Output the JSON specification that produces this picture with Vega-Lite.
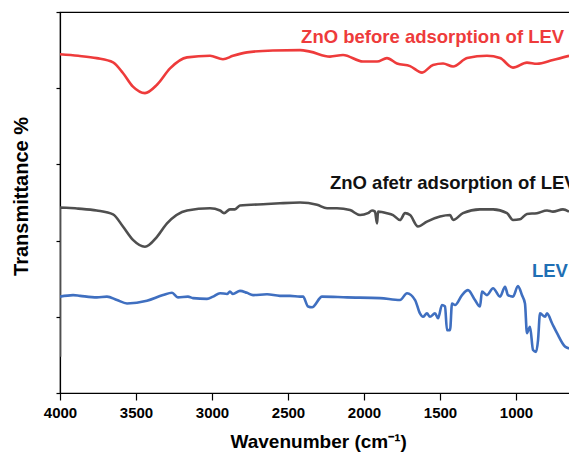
{
  "$schema": "https://vega.github.io/schema/vega-lite/v6.json",
  "autosize": {"type": "none"},
  "padding": {"left": 60, "top": 12, "right": 0, "bottom": 59},
  "width": 520,
  "height": 381,
  "background": "white",
  "view": {"stroke": "black", "strokeWidth": 1.2},
  "config": {"font": "Liberation Sans"},
  "datasets": {
    "spectra": [
      {"s": "before", "wn": 4000, "T": 88.9}, {"s": "before", "wn": 3880, "T": 88.5}, {"s": "before", "wn": 3759, "T": 87.9}, {"s": "before", "wn": 3651, "T": 86.8},
      {"s": "before", "wn": 3586, "T": 84.0}, {"s": "before", "wn": 3520, "T": 80.4}, {"s": "before", "wn": 3441, "T": 78.7},
      {"s": "before", "wn": 3362, "T": 80.9}, {"s": "before", "wn": 3276, "T": 85.2}, {"s": "before", "wn": 3164, "T": 88.1},
      {"s": "before", "wn": 3013, "T": 88.5}, {"s": "before", "wn": 2928, "T": 87.6}, {"s": "before", "wn": 2862, "T": 88.5},
      {"s": "before", "wn": 2770, "T": 89.4}, {"s": "before", "wn": 2599, "T": 89.9}, {"s": "before", "wn": 2421, "T": 90.0},
      {"s": "before", "wn": 2355, "T": 89.6}, {"s": "before", "wn": 2224, "T": 88.3}, {"s": "before", "wn": 2138, "T": 88.7},
      {"s": "before", "wn": 2007, "T": 87.0}, {"s": "before", "wn": 1914, "T": 87.0}, {"s": "before", "wn": 1849, "T": 87.9},
      {"s": "before", "wn": 1783, "T": 86.5}, {"s": "before", "wn": 1697, "T": 85.8}, {"s": "before", "wn": 1618, "T": 84.1},
      {"s": "before", "wn": 1546, "T": 86.1}, {"s": "before", "wn": 1480, "T": 86.5}, {"s": "before", "wn": 1414, "T": 85.7},
      {"s": "before", "wn": 1322, "T": 87.9}, {"s": "before", "wn": 1191, "T": 88.5}, {"s": "before", "wn": 1105, "T": 87.9},
      {"s": "before", "wn": 1020, "T": 85.4}, {"s": "before", "wn": 928, "T": 86.7}, {"s": "before", "wn": 862, "T": 86.4},
      {"s": "before", "wn": 757, "T": 87.4}, {"s": "before", "wn": 651, "T": 88.5},

      {"s": "after", "wn": 4000, "T": 9.5}, {"s": "after", "wn": 3999.9, "T": 48.7}, {"s": "after", "wn": 3880, "T": 48.4}, {"s": "after", "wn": 3759, "T": 47.9},
      {"s": "after", "wn": 3651, "T": 46.9}, {"s": "after", "wn": 3586, "T": 43.7}, {"s": "after", "wn": 3520, "T": 40.2},
      {"s": "after", "wn": 3441, "T": 38.4}, {"s": "after", "wn": 3362, "T": 41.0}, {"s": "after", "wn": 3296, "T": 44.5},
      {"s": "after", "wn": 3164, "T": 47.9}, {"s": "after", "wn": 3013, "T": 48.5}, {"s": "after", "wn": 2947, "T": 47.9},
      {"s": "after", "wn": 2921, "T": 47.2}, {"s": "after", "wn": 2882, "T": 48.2}, {"s": "after", "wn": 2849, "T": 48.2},
      {"s": "after", "wn": 2816, "T": 49.2}, {"s": "after", "wn": 2638, "T": 49.6}, {"s": "after", "wn": 2553, "T": 49.8},
      {"s": "after", "wn": 2421, "T": 50.0}, {"s": "after", "wn": 2309, "T": 49.4}, {"s": "after", "wn": 2243, "T": 48.5},
      {"s": "after", "wn": 2178, "T": 48.5}, {"s": "after", "wn": 2092, "T": 48.0}, {"s": "after", "wn": 2026, "T": 46.7},
      {"s": "after", "wn": 1974, "T": 47.2}, {"s": "after", "wn": 1947, "T": 47.9}, {"s": "after", "wn": 1928, "T": 47.6},
      {"s": "after", "wn": 1914, "T": 44.5}, {"s": "after", "wn": 1908, "T": 47.6}, {"s": "after", "wn": 1849, "T": 47.2},
      {"s": "after", "wn": 1809, "T": 46.7}, {"s": "after", "wn": 1763, "T": 45.4}, {"s": "after", "wn": 1730, "T": 47.2},
      {"s": "after", "wn": 1697, "T": 46.7}, {"s": "after", "wn": 1645, "T": 43.7}, {"s": "after", "wn": 1586, "T": 45.0},
      {"s": "after", "wn": 1500, "T": 46.3}, {"s": "after", "wn": 1434, "T": 46.7}, {"s": "after", "wn": 1414, "T": 45.4},
      {"s": "after", "wn": 1349, "T": 47.2}, {"s": "after", "wn": 1237, "T": 48.2}, {"s": "after", "wn": 1151, "T": 48.2},
      {"s": "after", "wn": 1059, "T": 47.2}, {"s": "after", "wn": 1020, "T": 45.4}, {"s": "after", "wn": 974, "T": 45.6},
      {"s": "after", "wn": 928, "T": 47.0}, {"s": "after", "wn": 862, "T": 47.2}, {"s": "after", "wn": 796, "T": 47.9},
      {"s": "after", "wn": 757, "T": 47.6}, {"s": "after", "wn": 691, "T": 48.2}, {"s": "after", "wn": 651, "T": 47.6},

      {"s": "LEV", "wn": 4000, "T": 25.3}, {"s": "LEV", "wn": 3914, "T": 25.7}, {"s": "LEV", "wn": 3868, "T": 25.5},
      {"s": "LEV", "wn": 3757, "T": 25.1}, {"s": "LEV", "wn": 3691, "T": 25.3}, {"s": "LEV", "wn": 3625, "T": 24.4},
      {"s": "LEV", "wn": 3559, "T": 23.5}, {"s": "LEV", "wn": 3428, "T": 24.2}, {"s": "LEV", "wn": 3322, "T": 25.7},
      {"s": "LEV", "wn": 3263, "T": 26.3}, {"s": "LEV", "wn": 3224, "T": 25.1}, {"s": "LEV", "wn": 3158, "T": 25.3},
      {"s": "LEV", "wn": 3125, "T": 24.9}, {"s": "LEV", "wn": 3033, "T": 24.7}, {"s": "LEV", "wn": 2993, "T": 25.3},
      {"s": "LEV", "wn": 2947, "T": 26.2}, {"s": "LEV", "wn": 2901, "T": 26.0}, {"s": "LEV", "wn": 2882, "T": 26.6},
      {"s": "LEV", "wn": 2862, "T": 26.0}, {"s": "LEV", "wn": 2816, "T": 26.8}, {"s": "LEV", "wn": 2770, "T": 26.3},
      {"s": "LEV", "wn": 2730, "T": 25.7}, {"s": "LEV", "wn": 2638, "T": 25.9}, {"s": "LEV", "wn": 2553, "T": 25.5},
      {"s": "LEV", "wn": 2487, "T": 25.5}, {"s": "LEV", "wn": 2421, "T": 25.3}, {"s": "LEV", "wn": 2401, "T": 25.3},
      {"s": "LEV", "wn": 2368, "T": 22.7}, {"s": "LEV", "wn": 2342, "T": 22.5}, {"s": "LEV", "wn": 2276, "T": 25.3},
      {"s": "LEV", "wn": 2112, "T": 25.1}, {"s": "LEV", "wn": 1895, "T": 24.9}, {"s": "LEV", "wn": 1763, "T": 24.4},
      {"s": "LEV", "wn": 1717, "T": 26.2}, {"s": "LEV", "wn": 1664, "T": 24.4}, {"s": "LEV", "wn": 1632, "T": 20.9},
      {"s": "LEV", "wn": 1612, "T": 20.0}, {"s": "LEV", "wn": 1586, "T": 20.9}, {"s": "LEV", "wn": 1566, "T": 20.0},
      {"s": "LEV", "wn": 1533, "T": 20.9}, {"s": "LEV", "wn": 1513, "T": 19.6}, {"s": "LEV", "wn": 1487, "T": 23.1},
      {"s": "LEV", "wn": 1467, "T": 22.7}, {"s": "LEV", "wn": 1454, "T": 16.5}, {"s": "LEV", "wn": 1434, "T": 16.5},
      {"s": "LEV", "wn": 1421, "T": 23.5}, {"s": "LEV", "wn": 1401, "T": 23.1}, {"s": "LEV", "wn": 1355, "T": 25.7},
      {"s": "LEV", "wn": 1316, "T": 27.0}, {"s": "LEV", "wn": 1270, "T": 24.4}, {"s": "LEV", "wn": 1237, "T": 22.7},
      {"s": "LEV", "wn": 1224, "T": 26.6}, {"s": "LEV", "wn": 1191, "T": 25.7}, {"s": "LEV", "wn": 1151, "T": 27.5},
      {"s": "LEV", "wn": 1105, "T": 25.3}, {"s": "LEV", "wn": 1072, "T": 27.9}, {"s": "LEV", "wn": 1053, "T": 25.7},
      {"s": "LEV", "wn": 1020, "T": 25.3}, {"s": "LEV", "wn": 987, "T": 28.1}, {"s": "LEV", "wn": 961, "T": 25.7},
      {"s": "LEV", "wn": 941, "T": 23.5}, {"s": "LEV", "wn": 928, "T": 15.7}, {"s": "LEV", "wn": 908, "T": 17.4},
      {"s": "LEV", "wn": 888, "T": 11.3}, {"s": "LEV", "wn": 868, "T": 10.8}, {"s": "LEV", "wn": 855, "T": 13.9},
      {"s": "LEV", "wn": 842, "T": 20.9}, {"s": "LEV", "wn": 809, "T": 20.0}, {"s": "LEV", "wn": 796, "T": 20.9},
      {"s": "LEV", "wn": 763, "T": 18.3}, {"s": "LEV", "wn": 730, "T": 15.7}, {"s": "LEV", "wn": 678, "T": 12.2},
      {"s": "LEV", "wn": 651, "T": 11.7}
    ],
    "labels": [
      {"s": "before", "label": "ZnO before adsorption of LEV", "wn": 2414, "T": 91.9},
      {"s": "after", "label": "ZnO afetr adsorption of LEV", "wn": 2224, "T": 53.6},
      {"s": "LEV", "label": "LEV", "wn": 895, "T": 30.5}
    ]
  },
  "layer": [
    {
      "data": {"name": "spectra"},
      "mark": {"type": "line", "strokeWidth": 2.6, "clip": true, "strokeJoin": "round", "interpolate": "monotone"},
      "encoding": {
        "x": {
          "field": "wn", "type": "quantitative",
          "scale": {"domain": [4000, 579], "nice": false, "zero": false},
          "axis": {
            "title": "Wavenumber (cm⁻¹)",
            "values": [4000, 3750, 3500, 3250, 3000, 2750, 2500, 2250, 2000, 1750, 1500, 1250, 1000, 750],
            "labelExpr": "datum.value % 500 === 0 ? datum.label : ''",
            "format": "d",
            "grid": false,
            "domainColor": "black",
            "domainWidth": 1.2,
            "tickColor": "black",
            "tickWidth": 1.2,
            "tickSize": {"condition": {"test": "datum.value % 500 === 0", "value": 7}, "value": 4},
            "labelFont": "Liberation Sans",
            "labelFontSize": 15,
            "labelFontWeight": "bold",
            "labelColor": "black",
            "labelPadding": 5,
            "labelFlush": false,
            "labelOverlap": false,
            "titleFont": "Liberation Sans",
            "titleFontSize": 19,
            "titleFontWeight": "bold",
            "titleColor": "black",
            "titlePadding": 12,
            "titleAnchor": "start",
            "titleX": 170
          }
        },
        "y": {
          "field": "T", "type": "quantitative",
          "scale": {"domain": [0, 100], "nice": false},
          "axis": {
            "title": "Transmittance %",
            "values": [0, 20, 40, 60, 80, 100],
            "labels": false,
            "grid": false,
            "domainColor": "black",
            "domainWidth": 1.2,
            "tickColor": "black",
            "tickWidth": 1.2,
            "tickSize": 4,
            "titleFont": "Liberation Sans",
            "titleFontSize": 20,
            "titleFontWeight": "bold",
            "titleColor": "black",
            "titlePadding": 24,
            "titleY": 184
          }
        },
        "color": {
          "field": "s", "type": "nominal", "legend": null,
          "scale": {"domain": ["before", "after", "LEV"], "range": ["#ee3b3b", "#4f4f4f", "#3f6fc0"]}
        }
      }
    },
    {
      "data": {"name": "labels"},
      "mark": {"type": "text", "align": "left", "baseline": "alphabetic", "font": "Liberation Sans", "fontSize": 18.5, "fontWeight": "bold"},
      "encoding": {
        "x": {"field": "wn", "type": "quantitative"},
        "y": {"field": "T", "type": "quantitative"},
        "text": {"field": "label"},
        "color": {
          "field": "s", "type": "nominal", "legend": null,
          "scale": {"domain": ["before", "after", "LEV"], "range": ["#ee3b3b", "#111111", "#1f6fb4"]}
        }
      }
    }
  ],
  "resolve": {"scale": {"color": "independent"}}
}
